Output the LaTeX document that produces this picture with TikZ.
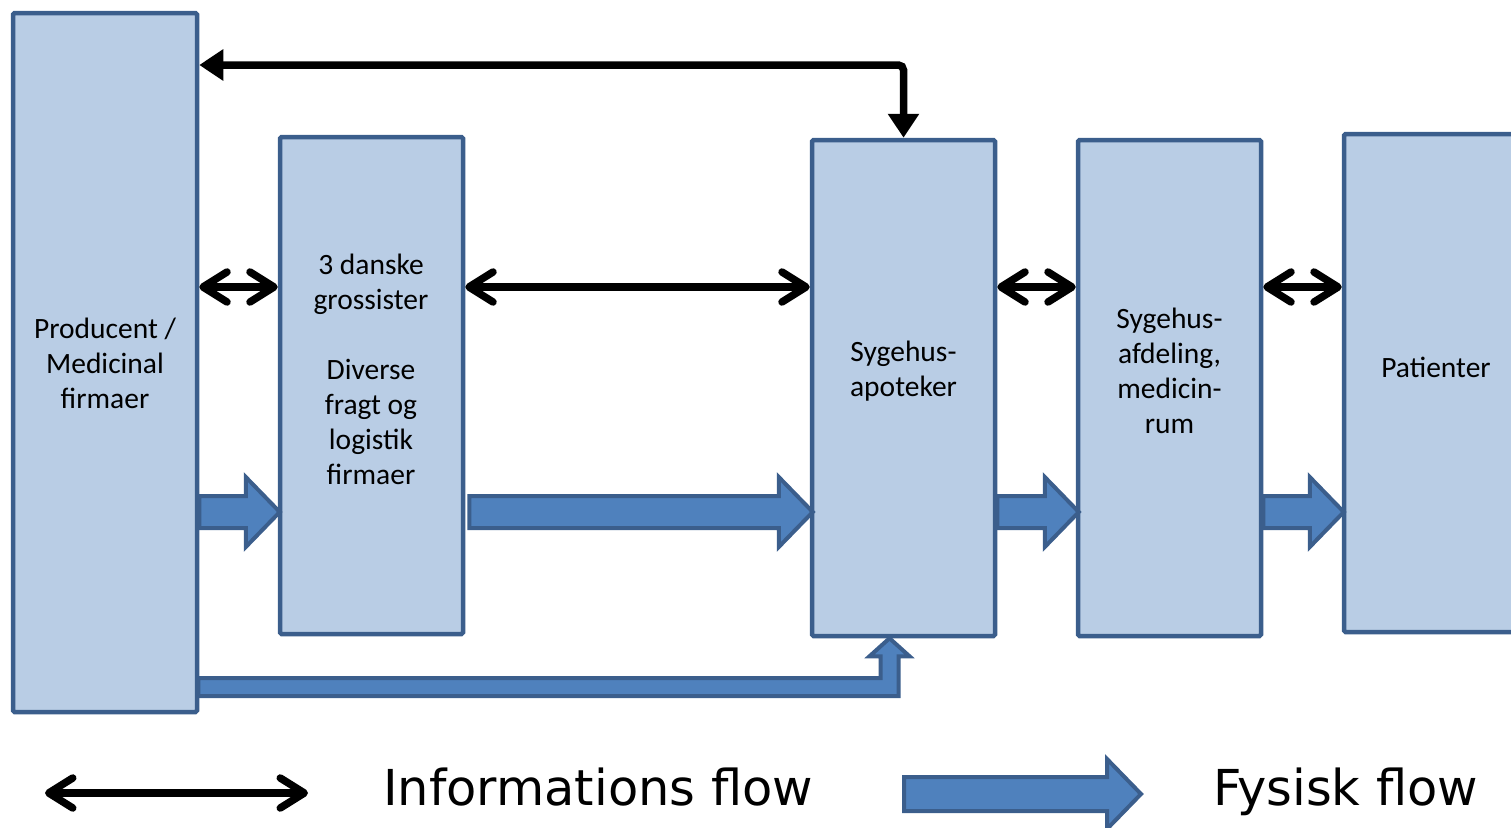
\documentclass[tikz,border=0pt]{standalone}
\usepackage{fontspec}
\newfontfamily\carlito{Carlito}
\newfontfamily\dejavu{DejaVu Sans}
\usetikzlibrary{arrows.meta,calc}
\definecolor{boxfill}{HTML}{B9CDE5}
\definecolor{boxline}{HTML}{3B5E8C}
\definecolor{arrfill}{HTML}{4F81BD}
\tikzset{
  actor/.style={draw=boxline,fill=boxfill,line width=4.5pt,rounded corners=1.5pt,inner sep=0pt},
  boxtext/.style={align=center,font={\carlito\fontsize{29.5}{35}\selectfont},inner sep=0pt},
  info/.style={line width=7.5pt,{Straight Barb[length=24pt,width=30pt,round]}-{Straight Barb[length=24pt,width=30pt,round]}},
  topinfo/.style={line width=7.5pt,rounded corners=5pt,{Triangle[length=24pt,width=30pt]}-{Triangle[length=24pt,width=30pt]}},
  fys/.style={draw=boxline,fill=arrfill,line width=4pt,line join=miter},
  legendtext/.style={anchor=base west,font={\dejavu\fontsize{49.5}{58}\selectfont},inner sep=0pt}
}
% block arrow: #1 start, #2 tip, #3 body half height, #4 head length
\newcommand\fysarrow[4]{%
  \draw[fys] let \p1=(#1), \p2=(#2) in
    (\x1,\y1+#3) -- (\x2-#4,\y1+#3) -- (\x2-#4,\y1+35pt) -- (\x2,\y1)
    -- (\x2-#4,\y1-35pt) -- (\x2-#4,\y1-#3) -- (\x1,\y1-#3) -- cycle;}
\begin{document}
\begin{tikzpicture}[x=1pt,y=-1pt]
\useasboundingbox (0,0) rectangle (1511,827);
\clip (0,0) rectangle (1511,827);
% boxes
\node[actor,minimum width=184pt,minimum height=699pt] (prod) at (105,362.5) {};
\node[actor,minimum width=183pt,minimum height=497pt] (gros) at (371.5,385.5) {};
\node[actor,minimum width=183pt,minimum height=496pt] (apo) at (903.5,388) {};
\node[actor,minimum width=183pt,minimum height=496pt] (afd) at (1169.5,388) {};
\node[actor,minimum width=183pt,minimum height=498pt] (pat) at (1435.5,383) {};
% texts
\node[boxtext] (prodt) at (105,363) {Producent /\\Medicinal\\firmaer};
\node[boxtext] (grost) at (371,369) {3 danske\\grossister\\[35pt]Diverse\\fragt og\\logistik\\firmaer};
\node[boxtext] (apot) at (903.5,371) {Sygehus-\\apoteker};
\node[boxtext] (afdt) at (1169.5,371) {Sygehus-\\afdeling,\\medicin-\\rum};
\node[boxtext] (patt) at (1436,367) {Patienter};
% information flows
\draw[info] (prod.east |- 0,287) -- (gros.west |- 0,287);
\draw[info] (gros.east |- 0,287) -- (apo.west |- 0,287);
\draw[info] (apo.east |- 0,287) -- (afd.west |- 0,287);
\draw[info] (afd.east |- 0,287) -- (pat.west |- 0,287);
\draw[topinfo] (apo.north) |- (prod.east |- 0,65);
% physical flows
\coordinate (a1s) at (prod.east |- 0,512);
\coordinate (a1e) at ($(gros.west |- 0,512)+(2,0)$);
\fysarrow{a1s}{a1e}{16pt}{34pt}
\coordinate (a2s) at ($(gros.east |- 0,512)+(4,0)$);
\coordinate (a2e) at ($(apo.west |- 0,512)+(3,0)$);
\fysarrow{a2s}{a2e}{16pt}{34pt}
\coordinate (a3s) at (apo.east |- 0,512);
\coordinate (a3e) at ($(afd.west |- 0,512)+(3,0)$);
\fysarrow{a3s}{a3e}{16pt}{34pt}
\coordinate (a4s) at (afd.east |- 0,512);
\coordinate (a4e) at ($(pat.west |- 0,512)+(2,0)$);
\fysarrow{a4s}{a4e}{16pt}{34pt}
% L-shaped physical flow
\coordinate (ls) at ($(prod.east |- 0,687)+(-1,0)$);
\coordinate (le) at ($(apo.south)+(-14,0)$);
\draw[fys] let \p1=(ls), \p2=(le) in
  (\x1,\y1+9pt) -- (\x2-9pt,\y1+9pt) -- (\x2-9pt,\y2-18pt) -- (\x2-20pt,\y2-18pt)
  -- (\x2,\y2) -- (\x2+20pt,\y2-18pt) -- (\x2+9pt,\y2-18pt) -- (\x2+9pt,\y1-9pt)
  -- (\x1,\y1-9pt) -- cycle;
% legend
\coordinate (l1) at (45,793);
\coordinate (l2) at (308,793);
\draw[info] (l1) -- (l2);
\node[legendtext] (infotext) at (383,805) {Informations flow};
\coordinate (l3) at (904,794);
\coordinate (l4) at (1141,794);
\fysarrow{l3}{l4}{17pt}{34pt}
\node[legendtext] (fystext) at (1213,805) {Fysisk flow};
\end{tikzpicture}
\end{document}
